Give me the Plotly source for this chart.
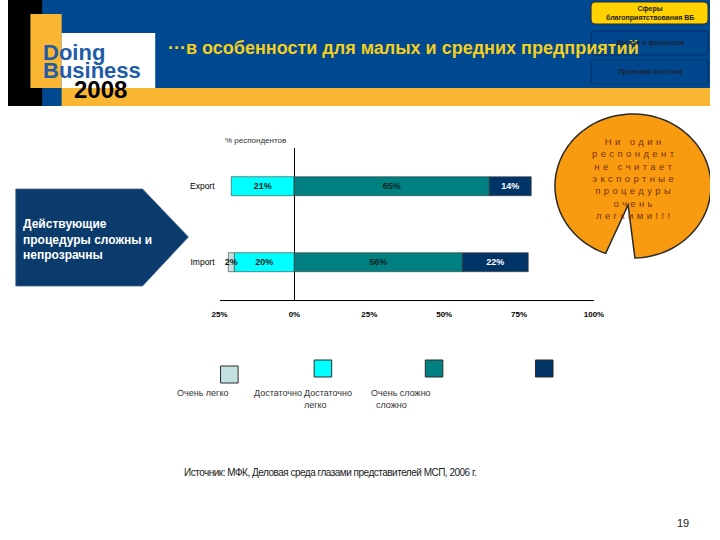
import numpy as np
import plotly.graph_objects as go

# ---------------- data ----------------
categories = ["Import", "Export"]
series_names = ["Достаточно легко", "Очень легко", "Достаточно сложно", "Очень сложно"]
easy_enough = [20, 21]      # drawn to the left of 0
very_easy = [2, 0]          # drawn to the left of 0
hard_enough = [56, 65]
very_hard = [22, 14]
tick_vals = [-25, 0, 25, 50, 75, 100]
tick_labels = ["25%", "0%", "25%", "50%", "75%", "100%"]
axis_title = "% респондентов"
legend_texts = ["Очень легко", "Достаточно", "Достаточно<br>легко", "Очень сложно<br>  сложно"]
title_text = "···в особенности для малых и средних предприятий"
box_text = "Действующие<br>процедуры сложны и<br>непрозрачны"
callout_lines = ["Ни один", "респондент", "не считает",
                 "экспортные", "процедуры", "очень", "легкими!!!"]
source_text = "Источник: МФК, Деловая среда глазами представителей МСП, 2006 г."
page_no = "19"
menu_items = ["Сферы<br>благоприятствования ВБ", "Доступ к финансам", "Правовая система"]

# ---------------- style ----------------
FONT = "Liberation Sans"
NARROW = "Liberation Sans Narrow, Liberation Sans"
C_VERY_EASY = "#c2e2e2"
C_EASY = "#00ffff"
C_HARD = "#008080"
C_VERY_HARD = "#003366"
BLUE = "#00488f"
GOLD = "#f8b632"

fig = go.Figure()

def add_bar(vals, sign, color, tcolor, name):
    fig.add_trace(go.Bar(
        y=categories, x=[sign * v for v in vals], orientation="h", name=name,
        marker=dict(color=color, line=dict(color="#3c3c3c", width=0.6)),
        text=[f"{v}%" if v else "" for v in vals],
        textposition="inside", insidetextanchor="middle", textangle=0,
        textfont=dict(family=FONT, size=9, color=tcolor, weight="bold"),
        width=0.25, hoverinfo="skip", showlegend=False, xaxis="x", yaxis="y"))

add_bar(easy_enough, -1, C_EASY, "#1a1a1a", series_names[0])
add_bar(very_easy, -1, C_VERY_EASY, "#1a1a1a", series_names[1])
add_bar(hard_enough, 1, C_HARD, "#0d2626", series_names[2])
add_bar(very_hard, 1, C_VERY_HARD, "#ffffff", series_names[3])

# invisible overlay subplot in pixel units for the slide decoration
fig.add_trace(go.Scatter(x=[None], y=[None], xaxis="x2", yaxis="y2",
                         showlegend=False, hoverinfo="skip"))

W, H = 720, 540
shapes = []
ann = []

def rect(x0, y0, x1, y1, fill, line=None, lw=0):
    shapes.append(dict(type="rect", xref="x2", yref="y2", x0=x0, y0=y0, x1=x1, y1=y1,
                       fillcolor=fill, line=dict(color=line or fill, width=lw)))

def path(d, fill, line=None, lw=0):
    shapes.append(dict(type="path", xref="x2", yref="y2", path=d, fillcolor=fill,
                       line=dict(color=line or fill, width=lw)))

def rrect(x0, y0, x1, y1, r):
    return (f"M{x0+r},{y0} L{x1-r},{y0} Q{x1},{y0} {x1},{y0+r} L{x1},{y1-r} "
            f"Q{x1},{y1} {x1-r},{y1} L{x0+r},{y1} Q{x0},{y1} {x0},{y1-r} "
            f"L{x0},{y0+r} Q{x0},{y0} {x0+r},{y0} Z")

def text(x, y, s, size, color, bold=False, xanchor="left", align="left", yanchor="middle", family=FONT):
    ann.append(dict(xref="x2", yref="y2", x=x, y=y, text=s, showarrow=False,
                    xanchor=xanchor, yanchor=yanchor, align=align,
                    font=dict(family=family, size=size, color=color,
                              weight="bold" if bold else "normal")))

def spaced(s, px):
    return f'<span style="letter-spacing:{px}px">{s}</span>'

# header
rect(0, 0, 720, 106, BLUE)
rect(0, 0, 35, 106, "#000000")
rect(23, 14, 55, 88, GOLD)
rect(55, 33, 151, 88, "#ffffff")
rect(55, 88, 720, 106, GOLD)
text(34, 52, "Doing", 22, "#1f5ca6", bold=True)
text(34, 70, "Business", 22, "#1f5ca6", bold=True)
text(66, 89, "2008", 24, "#000000", bold=True)
text(162, 48, title_text, 18, "#f3cf1e", bold=True)

# menu buttons
path(rrect(598, 2, 718, 24, 4), "#ffd200", "#2a2a2a", 1)
path(rrect(598, 31, 718, 55, 4), "#00478e", "#00336a", 1.2)
path(rrect(598, 60, 718, 84, 4), "#00478e", "#00336a", 1.2)
text(658, 13, menu_items[0], 7, "#1a1a1a", bold=True, xanchor="center", align="center")
text(658, 43, menu_items[1], 7, "#1b2638", bold=True, xanchor="center", align="center")
text(658, 72, menu_items[2], 7, "#1b2638", bold=True, xanchor="center", align="center")

# left pentagon
path("M8,189 L138,189 L185,237 L138,286 L8,286 Z", "#0b3a6c", "#3d6690", 0.8)
text(13, 239, box_text, 12, "#ffffff", bold=True)

# orange callout (ellipse with a notch)
cx, cy, rx, ry = 641, 186, 80, 72
t_right = np.arccos((643 - cx) / rx)
t_left = np.arccos((613 - cx) / rx) - 2 * np.pi
ts = np.linspace(t_right, t_left, 120)
pts = [f"{cx + rx*np.cos(t):.1f},{cy + ry*np.sin(t):.1f}" for t in ts]
d = "M" + " L".join(pts) + " L636,205 Z"
path(d, "#f99b10", "#2a2a2a", 1.5)
text(643, 178, "<br>".join(spaced(l, 3.4) for l in callout_lines), 9.5, "#7a3000",
     xanchor="center", align="center")

# chart axis title
text(220, 140, axis_title, 8, "#333333", family=NARROW)

# legend squares
sq = [(218, 366, C_VERY_EASY), (314, 360, C_EASY), (428, 360, C_HARD), (541, 360, C_VERY_HARD)]
for x0, y0, c in sq:
    rect(x0, y0, x0 + 18, y0 + 17, c, "#2a2a2a", 1)
text(171, 393, legend_texts[0], 9, "#333333")
text(250, 393, legend_texts[1], 9, "#333333")
text(302, 386, legend_texts[2], 9, "#333333", yanchor="top")
text(370, 386, legend_texts[3], 9, "#333333", yanchor="top")

# footer
text(178, 472, spaced(source_text, -0.5), 10, "#222222", family=NARROW)
text(692, 523, page_no, 11, "#222222", xanchor="center")

fig.update_layout(
    width=W, height=H, margin=dict(l=0, r=0, t=0, b=0),
    paper_bgcolor="#ffffff", plot_bgcolor="rgba(0,0,0,0)",
    barmode="relative", bargap=0,
    uniformtext=dict(mode="show", minsize=9),
    showlegend=False,
    xaxis=dict(domain=[217 / W, 601 / W], range=[-25, 100], anchor="y",
               tickvals=tick_vals, ticktext=tick_labels, ticks="",
               tickfont=dict(family=FONT, size=8, color="#000000", weight="bold"),
               ticklabelstandoff=6,
               showline=True, linecolor="#000000", linewidth=1,
               showgrid=False, zeroline=True, zerolinecolor="#000000", zerolinewidth=1,
               fixedrange=True),
    yaxis=dict(domain=[1 - 300 / H, 1 - 148 / H], range=[-0.5, 1.5], anchor="x",
               type="category", categoryorder="array", categoryarray=categories,
               tickfont=dict(family=NARROW, size=8.5, color="#000000"),
               ticks="", ticklabelstandoff=4, showline=False, showgrid=False,
               zeroline=False, fixedrange=True),
    xaxis2=dict(domain=[0, 1], range=[0, W], anchor="y2", visible=False, fixedrange=True),
    yaxis2=dict(domain=[0, 1], range=[H, 0], anchor="x2", visible=False, fixedrange=True),
    shapes=shapes, annotations=ann,
)

fig.write_html("out.html")
